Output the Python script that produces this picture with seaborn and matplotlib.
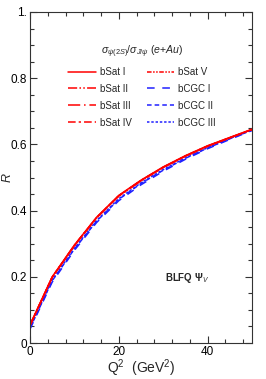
import numpy as np
import pandas as pd
import matplotlib
matplotlib.use("Agg")
import matplotlib.pyplot as plt
import seaborn as sns
from matplotlib.lines import Line2D
from matplotlib.ticker import MultipleLocator, FixedLocator

# ── data ──────────────────────────────────────────────────────
q2 = [0, 5, 10, 15, 20, 25, 30, 35, 40, 45, 50]

bsat_1 = [0.055, 0.200, 0.296, 0.380, 0.446, 0.492, 0.532, 0.566, 0.596, 0.621, 0.646]
bsat_2 = [0.054, 0.199, 0.295, 0.379, 0.445, 0.491, 0.531, 0.565, 0.595, 0.620, 0.645]
bsat_3 = [0.053, 0.198, 0.294, 0.378, 0.444, 0.490, 0.530, 0.565, 0.595, 0.620, 0.645]
bsat_4 = [0.054, 0.199, 0.295, 0.379, 0.445, 0.491, 0.531, 0.565, 0.595, 0.620, 0.645]
bsat_5 = [0.053, 0.198, 0.294, 0.378, 0.444, 0.490, 0.530, 0.564, 0.594, 0.620, 0.645]
bcgc_1 = [0.042, 0.184, 0.280, 0.364, 0.430, 0.478, 0.519, 0.555, 0.587, 0.615, 0.642]
bcgc_2 = [0.045, 0.188, 0.284, 0.368, 0.434, 0.482, 0.522, 0.558, 0.589, 0.617, 0.643]
bcgc_3 = [0.047, 0.190, 0.286, 0.370, 0.436, 0.484, 0.524, 0.559, 0.590, 0.618, 0.644]

series_names = ["bSat I", "bSat II", "bSat III", "bSat IV", "bSat V",
                "bCGC I", "bCGC II", "bCGC III"]
series_vals = [bsat_1, bsat_2, bsat_3, bsat_4, bsat_5, bcgc_1, bcgc_2, bcgc_3]

rows = []
for name, vals in zip(series_names, series_vals):
    for x, y in zip(q2, vals):
        rows.append({"Q2": x, "R": y, "model": name})
df = pd.DataFrame(rows)

# ── styles ────────────────────────────────────────────────────
red, blue = "#ff0000", "#2020ff"
styles = {
    "bSat I":   (red, "-"),
    "bSat II":  (red, (0, (6, 1.5, 1, 1.5, 1, 1.5))),
    "bSat III": (red, (0, (8, 2.5, 1, 2.5))),
    "bSat IV":  (red, (0, (5, 2, 1.5, 2))),
    "bSat V":   (red, (0, (3, 1, 1, 1, 1, 1))),
    "bCGC I":   (blue, (0, (5, 5))),
    "bCGC II":  (blue, (0, (3, 2))),
    "bCGC III": (blue, (0, (1.6, 1.2))),
}

sns.set_style("ticks")
plt.rcParams["font.family"] = ["Liberation Sans", "DejaVu Sans"]
plt.rcParams["mathtext.fontset"] = "custom"
plt.rcParams["mathtext.rm"] = "Liberation Sans"
plt.rcParams["mathtext.it"] = "Liberation Sans:italic"
plt.rcParams["mathtext.bf"] = "Liberation Sans:bold"

fig = plt.figure(figsize=(2.66, 3.79), dpi=100)
ax = fig.add_axes([30 / 266, 36 / 379, 222 / 266, 331 / 379])

# draw the blue ones first so red sits on top
order = series_names[5:] + series_names[:5]
for name in order:
    col, ls = styles[name]
    sns.lineplot(data=df[df["model"] == name], x="Q2", y="R", ax=ax,
                 color=col, linestyle=ls, linewidth=1.1, legend=False)

ax.set_xlim(0, 50)
ax.set_ylim(0, 1.0)
ax.xaxis.set_major_locator(FixedLocator([0, 20, 40]))
ax.xaxis.set_minor_locator(MultipleLocator(4))
ax.yaxis.set_major_locator(FixedLocator([0, 0.2, 0.4, 0.6, 0.8, 1.0]))
ax.yaxis.set_minor_locator(MultipleLocator(0.05))
ax.set_yticklabels(["0", "0.2", "0.4", "0.6", "0.8", "1."])
ax.set_xticklabels(["0", "20", "40"])
ax.tick_params(which="both", direction="in", top=True, right=True,
               labelsize=8.5, colors="#333333", labelcolor="black")
ax.tick_params(which="major", length=5, width=0.8, pad=2)
ax.tick_params(which="minor", length=3, width=0.8)
for s in ax.spines.values():
    s.set_color("#333333")
    s.set_linewidth(0.8)

ax.set_xlabel(r"Q$^2$  (GeV$^2$)", fontsize=10, labelpad=0)
ax.set_ylabel("R", fontsize=9, style="italic")
ax.yaxis.set_label_coords(-0.075, 0.5)

ax.text(0.505, 0.88, r"$\sigma_{\psi(2S)}/\sigma_{J/\psi}$ $(e$+$Au)$",
        transform=ax.transAxes, ha="center", va="center", fontsize=7.6)
ax.text(0.61, 0.196, r"BLFQ $\mathbf{\Psi}_{V}$", transform=ax.transAxes,
        ha="left", va="center", fontsize=7, fontweight="bold")

handles = [Line2D([], [], color=styles[n][0], linestyle=styles[n][1],
                  linewidth=1.1, label=n) for n in series_names]
ax.legend(handles=handles, ncol=2, frameon=False, fontsize=7,
          loc="upper center", bbox_to_anchor=(0.505, 0.86),
          handlelength=2.8, handletextpad=0.4, columnspacing=1.6,
          labelspacing=0.7)

fig.savefig("out.png", dpi=100)
